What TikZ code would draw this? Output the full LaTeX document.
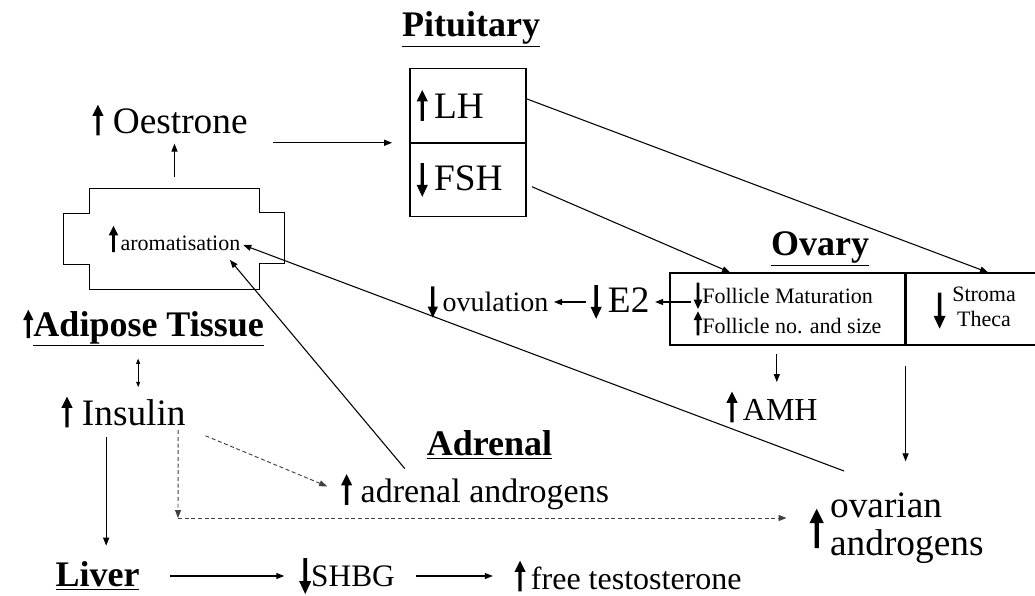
\documentclass[tikz,border=0pt]{standalone}
\usepackage{fontspec}
\setmainfont{Liberation Serif}
\usetikzlibrary{arrows.meta,positioning}

% bold up/down arrows, argument = size in pt
\newcommand{\arrup}[1]{\tikz[baseline=0pt,x=#1pt,y=#1pt]\fill (-0.045,-0.06) -- (0.045,-0.06)
  -- (0.045,0.46) -- (0.15,0.46) -- (0,0.76) -- (-0.15,0.46) -- (-0.045,0.46) -- cycle;}
\newcommand{\arrdn}[1]{\tikz[baseline=0pt,x=#1pt,y=#1pt]\fill (-0.045,0.72) -- (0.045,0.72)
  -- (0.045,0.14) -- (0.15,0.14) -- (0,-0.18) -- (-0.15,0.14) -- (-0.045,0.14) -- cycle;}

\tikzset{
  txt/.style={inner sep=0pt, font=\fontsize{#1}{#1}\selectfont},
  ttl/.style={inner sep=0pt, font=\bfseries\fontsize{#1}{#1}\selectfont},
  cell/.style={draw, line width=0.9pt, inner sep=0pt, align=left},
  arr/.style={-{Triangle[length=6pt,width=4.5pt]}, line width=0.8pt},
  dsh/.style={arr, densely dashed, draw=black!75, line width=0.7pt}
}

\begin{document}
\begin{tikzpicture}[x=0.75pt, y=-0.75pt]
    \useasboundingbox (0,0) rectangle (1035,596);

    % Pituitary
    \node[ttl=27] (pit) at (471,29) {\underline{Pituitary}};
    \node[cell, minimum width=87pt, minimum height=55pt, text width=77pt,
          font=\fontsize{28}{30}\selectfont] (lh) at (468,105.5) {\arrup{28}\,LH};
    \node[cell, minimum width=87pt, minimum height=55pt, text width=77pt,
          font=\fontsize{28}{30}\selectfont, below=0pt of lh] (fsh) {\arrdn{28}\,FSH};

    % Adipose side
    \node[txt=28] (oes) at (170,120) {\arrup{28} Oestrone};
    \node[minimum width=126.75pt, minimum height=75pt, inner sep=0pt] (arom) at (174.5,239)
        {\arrup{24}\,{\fontsize{16.5}{18}\selectfont aromatisation}};
    \draw[line width=0.9pt] (arom.north west) -- (arom.north east) -- ++(0,24) -- ++(25,0)
        -- ++(0,51) -- ++(-25,0) -- (arom.south east) -- (arom.south west) -- ++(0,-25)
        -- ++(-26,0) -- ++(0,-51) -- ++(26,0) -- cycle;
    \node[inner sep=0pt] (adip) at (143.5,328)
        {\arrup{26}\textbf{\fontsize{27}{27}\selectfont\underline{Adipose Tissue}}};
    \node[txt=28] (ins) at (123.5,412) {\arrup{28} Insulin};

    % Ovary
    \node[ttl=27] (ovy) at (820,249) {\underline{Ovary}};
    \node[cell, minimum width=176.25pt, minimum height=54pt,
          font=\fontsize{16.5}{22.5}\selectfont] (fol) at (787.5,309)
        {\arrdn{22}Follicle Maturation\\\arrup{22}Follicle no. and size};
    \node[cell, minimum width=96.75pt, minimum height=54pt, right=0pt of fol,
          font=\fontsize{16.5}{18.75}\selectfont] (str)
        {\hspace{6pt}\raisebox{-5pt}{\arrdn{30}}\hspace{5pt}\begin{tabular}{@{}c@{}}Stroma\\Theca\end{tabular}};
    \node[txt=28] (e2) at (620,302) {\arrdn{28}\,E2};
    \node[txt=21] (ovl) at (488,302) {\arrdn{26}\,ovulation};
    \node[txt=24] (amh) at (772,407) {\arrup{28}\,AMH};
    \node[inner sep=0pt, font=\fontsize{28}{28.5}\selectfont] (ova) at (896.5,529)
        {\raisebox{-6pt}{\arrup{36}}\,\begin{tabular}{@{}l@{}}ovarian\\androgens\end{tabular}};

    % Adrenal
    \node[ttl=27] (adt) at (489.5,445) {\underline{Adrenal}};
    \node[txt=25.5] (adr) at (475,492) {\arrup{28} adrenal androgens};

    % Liver row
    \node[ttl=27] (liv) at (97.5,576) {\underline{Liver}};
    \node[txt=23.5] (shbg) at (347,576) {\arrdn{30}SHBG};
    \node[txt=24] (free) at (628,576) {\arrup{28}\,free testosterone};
    \coordinate (crn) at (178,518);

    % Connectors
    \draw[arr, shorten <=19pt, shorten >=13pt] (oes.east |- lh.south west) -- (lh.south west);
    \draw[arr, shorten <=9pt, shorten >=6pt] (arom.north) -- (arom.north |- oes.south);
    \draw[arr] ([yshift=5pt]lh.east) -- ([xshift=13pt]str.north);
    \draw[arr] ([xshift=4pt,yshift=-5pt]fsh.east) -- ([xshift=-43pt]fol.north);
    \draw[arr, shorten >=4pt] ([xshift=16pt]fol.west |- e2.east) -- (e2.east);
    \draw[arr, shorten <=3pt, shorten >=4pt] (e2.west) -- (ovl.east);
    \draw[arr, shorten <=6pt, shorten >=7pt] ([xshift=-8pt]fol.south) -- ([xshift=-8pt]fol.south |- amh.north);
    \draw[arr, shorten <=15pt, shorten >=22pt] (str.south west) -- (str.south west |- ova.north);
    \draw[arr, shorten <=42pt] (ova.north) -- ([xshift=-12pt,yshift=-4.5pt]arom.east);
    \draw[arr] ([xshift=48pt,yshift=4pt]adr.north west) -- ([xshift=41.6pt,yshift=-15.75pt]arom.center);
    \draw[{Triangle[length=4pt,width=3pt]}-{Triangle[length=4pt,width=3pt]}, line width=0.6pt,
          shorten <=9pt, shorten >=7pt] ([xshift=-4pt]adip.south) -- ([xshift=-4pt]adip.south |- ins.north);
    \draw[arr, shorten <=7pt, shorten >=12pt] ([xshift=-13pt]ins.south) -- ([xshift=-13pt]ins.south |- liv.north);
    \draw[arr, shorten <=23pt, shorten >=11pt] (liv.east) -- (liv.east -| shbg.west);
    \draw[arr, shorten <=16pt, shorten >=16pt] (shbg.east) -- (shbg.east -| free.west);
    \draw[dsh, shorten <=16pt, shorten >=11pt] (ins.south east) -- (adr.west);
    \draw[dsh, shorten <=2pt] ([xshift=41pt]ins.south) -- (crn);
    \draw[dsh, shorten >=17pt] (crn) -- (crn -| ova.west);
\end{tikzpicture}
\end{document}
